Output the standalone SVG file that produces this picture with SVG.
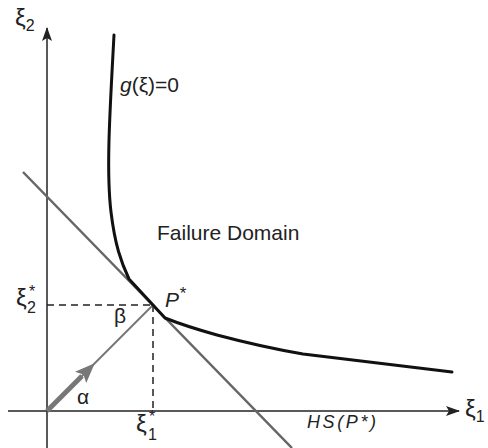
<svg xmlns="http://www.w3.org/2000/svg" width="488" height="448" viewBox="0 0 488 448">
<defs>
<style>
text{font-family:"Liberation Sans",Arial,sans-serif;fill:#222}
.axis{stroke:#222;stroke-width:1.5;fill:none}
.dash{stroke:#222;stroke-width:1.5;stroke-dasharray:7,5;fill:none}
.curve{stroke:#111;stroke-width:3;fill:none;stroke-linejoin:round;stroke-linecap:round}
.hs{stroke:#666;stroke-width:2.5;fill:none}
.beta{stroke:#777;stroke-width:2;fill:none}
.alpha{stroke:#777;stroke-width:5;fill:none}
.xi{font-size:24px}
.sub{font-size:16px}
</style>
<marker id="axArrow" markerWidth="14" markerHeight="10" refX="13" refY="5" orient="auto" markerUnits="userSpaceOnUse">
<path d="M0,0 L14,5 L0,10 L3,5 Z" fill="#222"/>
</marker>
<marker id="grayArrow" markerWidth="20" markerHeight="16" refX="2" refY="8" orient="auto" markerUnits="userSpaceOnUse">
<path d="M0,0 L20,8 L0,16 L4,8 Z" fill="#777"/>
</marker>
</defs>
<g id="connectors">
<line class="axis" x1="47" y1="448" x2="47" y2="28" marker-end="url(#axArrow)"/>
<line class="axis" x1="8" y1="411" x2="459" y2="411" marker-end="url(#axArrow)"/>
<line class="dash" x1="47" y1="305" x2="153" y2="305"/>
<line class="dash" x1="153" y1="305" x2="153" y2="410"/>
<line class="hs" x1="23" y1="172" x2="292" y2="448"/>
<line class="beta" x1="47" y1="411" x2="153" y2="305"/>
<line class="alpha" x1="47" y1="411" x2="82" y2="376" marker-end="url(#grayArrow)"/>
<path class="curve" d="M114,35 C110,110 106,170 111,212 C115,245 121,262 129,279 L165,318 Q185,326 217,335 Q262,347 303,354 L452,372"/>
</g>
<g id="labels">
<text x="15" y="26" class="xi">ξ<tspan class="sub" font-size="17" dy="5">2</tspan></text>
<text x="465" y="417" class="xi">ξ<tspan class="sub" font-size="15" dy="5">1</tspan></text>
<text x="120" y="92" font-size="21"><tspan font-style="italic">g</tspan>(ξ)=0</text>
<text x="157" y="240" font-size="21">Failure Domain</text>
<text x="165" y="307" font-size="21" font-style="italic">P<tspan font-size="17" dy="-8">*</tspan></text>
<text x="16" y="306" class="xi">ξ<tspan class="sub" x="29" dy="-9">*</tspan></text>
<text x="27" y="313" class="sub" font-size="17">2</text>
<text x="136" y="432" class="xi">ξ<tspan class="sub" x="149" dy="-10">*</tspan></text>
<text x="148" y="440" class="sub" font-size="17">1</text>
<text x="114" y="323" font-size="21">β</text>
<text x="77" y="404" font-size="21">α</text>
<text x="307" y="428" font-size="18" font-style="italic" textLength="69">HS(P*)</text>
</g>
</svg>
